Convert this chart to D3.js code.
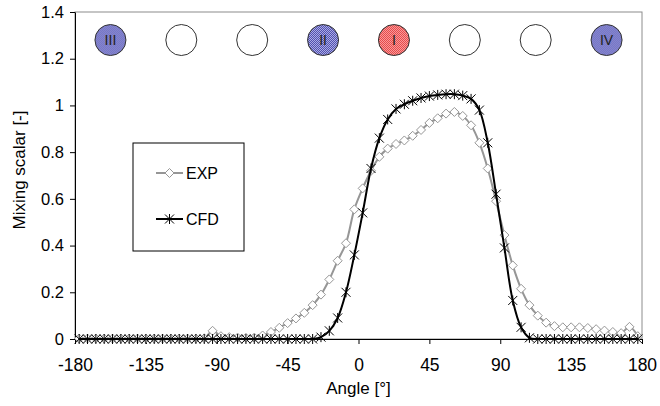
<!DOCTYPE html>
<html>
<head>
<meta charset="utf-8">
<script src="https://cdn.jsdelivr.net/npm/d3@7"></script>
<style>
body { margin: 0; background: #fff; }
svg text { font-family: "Liberation Sans", Arial, sans-serif; }
</style>
</head>
<body>
<svg id="chart" width="660" height="406"></svg>
<script>
// Measurement angles (deg)
const angles = [
-177.35, -172.06, -166.76, -161.47, -156.18, -150.88, -145.59, -140.29, -135.00, -129.71,
-124.41, -119.12, -113.82, -108.53, -103.24, -97.94, -92.65, -87.35, -82.06, -76.76,
-71.47, -66.18, -60.88, -55.59, -50.29, -45.00, -39.71, -34.41, -29.12, -23.82,
-18.53, -13.24, -7.94, -2.65,
2.65, 7.94, 13.24, 18.53, 23.82, 29.12, 34.41, 39.71, 45.00, 50.29,
55.59, 60.88, 66.18, 71.47, 76.76, 82.06, 87.35, 92.65, 97.94, 103.24,
108.53, 113.82, 119.12, 124.41, 129.71, 135.00, 140.29, 145.59, 150.88, 156.18,
161.47, 166.76, 172.06, 177.35
];

const expValues = [
0.002, 0.002, 0.002, 0.002, 0.002, 0.002, 0.002, 0.002, 0.002, 0.002,
0.002, 0.002, 0.002, 0.002, 0.002, 0.003, 0.035, 0.012, 0.008, 0.006,
0.005, 0.006, 0.015, 0.03, 0.048, 0.068, 0.088, 0.112, 0.145, 0.19,
0.255, 0.335, 0.41, 0.555,
0.645, 0.72, 0.78, 0.815, 0.835, 0.85, 0.87, 0.895, 0.925, 0.945,
0.965, 0.972, 0.955, 0.915, 0.84, 0.73, 0.59, 0.445, 0.315, 0.215,
0.145, 0.1, 0.07, 0.055, 0.05, 0.05, 0.05, 0.047, 0.042, 0.036,
0.03, 0.025, 0.052, 0.012
];

const cfdValues = [
0, 0, 0, 0, 0, 0, 0, 0, 0, 0,
0, 0, 0, 0, 0, 0, 0, 0, 0, 0,
0, 0, 0, 0, 0, 0, 0, 0, 0, 0.008,
0.035, 0.09, 0.2, 0.36,
0.54, 0.73, 0.86, 0.94, 0.985, 1.005, 1.02, 1.032, 1.04, 1.045,
1.048, 1.048, 1.042, 1.028, 0.98, 0.84, 0.62, 0.39, 0.165, 0.05,
0.005, 0, 0, 0, 0, 0, 0, 0, 0, 0,
0, 0, 0, 0
];

const xTicks = [-180, -135, -90, -45, 0, 45, 90, 135, 180];
const yTicks = [0, 0.2, 0.4, 0.6, 0.8, 1, 1.2, 1.4];

// Jet position circles along the top
const jetAngles = [-157.5, -112.5, -67.5, -22.5, 22.5, 67.5, 112.5, 157.5];
const jetLabels = ["III", "", "", "II", "I", "", "", "IV"];
const jetKinds = ["blue", "none", "none", "blue", "red", "none", "none", "blue"];
const jetLevel = 1.28;

// Chart dimensions
const margin = { top: 12, right: 18, bottom: 67, left: 75 };
const width = 660;
const height = 406;
const innerWidth = width - margin.left - margin.right;
const innerHeight = height - margin.top - margin.bottom;

const xScale = d3.scaleLinear().domain([-180, 180]).range([0, innerWidth]);
const yScale = d3.scaleLinear().domain([0, 1.4]).range([innerHeight, 0]);

const root = d3.select("#chart");

// dithered fills like the original
const defs = root.append("defs");
function dither(id, light, dark) {
  const p = defs.append("pattern").attr("id", id)
    .attr("width", 2).attr("height", 2).attr("patternUnits", "userSpaceOnUse");
  p.append("rect").attr("width", 2).attr("height", 2).attr("fill", light);
  p.append("rect").attr("x", 0).attr("y", 0).attr("width", 1).attr("height", 1).attr("fill", dark);
  p.append("rect").attr("x", 1).attr("y", 1).attr("width", 1).attr("height", 1).attr("fill", dark);
}
dither("blueFill", "#b4b4ec", "#4848a8");
dither("redFill", "#ffa0a0", "#e04444");

const svg = root.append("g")
  .attr("transform", `translate(${margin.left}, ${margin.top})`);

// plot area frame (top / right in gray)
svg.append("rect")
  .attr("width", innerWidth).attr("height", innerHeight)
  .attr("fill", "none").attr("stroke", "#8c8c8c").attr("stroke-width", 1);

// axes
const xAxis = d3.axisBottom(xScale)
  .tickValues(xTicks)
  .tickFormat(d => String(d))
  .tickSizeInner(5)
  .tickSizeOuter(0)
  .tickPadding(15);

const yAxis = d3.axisLeft(yScale)
  .tickValues(yTicks)
  .tickFormat(d => String(d))
  .tickSizeInner(5)
  .tickSizeOuter(0)
  .tickPadding(6);

const gx = svg.append("g")
  .attr("class", "x-axis")
  .attr("transform", `translate(0, ${innerHeight})`)
  .call(xAxis);
const gy = svg.append("g")
  .attr("class", "y-axis")
  .call(yAxis);

gx.attr("font-size", 17.5);
gy.attr("font-size", 16.5);
[gx, gy].forEach(g => {
  g.selectAll("path, line").attr("stroke", "#000");
  g.selectAll("text").attr("fill", "#000");
});

// axis titles
svg.append("text")
  .attr("x", innerWidth / 2)
  .attr("y", innerHeight + 55)
  .attr("text-anchor", "middle")
  .attr("font-size", 17)
  .text("Angle [°]");

svg.append("text")
  .attr("transform", `translate(${25 - margin.left}, ${158}) rotate(-90)`)
  .attr("text-anchor", "middle")
  .attr("font-size", 17)
  .text("Mixing scalar [-]");

// data lines
const expData = angles.map((a, i) => ({ a: a, v: expValues[i] }));
const cfdData = angles.map((a, i) => ({ a: a, v: cfdValues[i] }));

const line = d3.line()
  .x(d => xScale(d.a))
  .y(d => yScale(d.v))
  .curve(d3.curveCatmullRom);

const diamond = "M0,-4.5L4.5,0L0,4.5L-4.5,0Z";
const star = "M-4.5,-4.5L4.5,4.5M-4.5,4.5L4.5,-4.5M0,-5L0,5";

svg.append("path")
  .datum(expData)
  .attr("fill", "none")
  .attr("stroke", "#969696")
  .attr("stroke-width", 2)
  .attr("d", line);

svg.append("g").selectAll("path")
  .data(expData)
  .join("path")
  .attr("transform", d => `translate(${xScale(d.a)}, ${yScale(d.v)})`)
  .attr("d", diamond)
  .attr("fill", "#fff")
  .attr("stroke", "#969696")
  .attr("stroke-width", 1);

svg.append("path")
  .datum(cfdData)
  .attr("fill", "none")
  .attr("stroke", "#000")
  .attr("stroke-width", 2)
  .attr("d", line);

svg.append("g").selectAll("path")
  .data(cfdData)
  .join("path")
  .attr("transform", d => `translate(${xScale(d.a)}, ${yScale(d.v)})`)
  .attr("d", star)
  .attr("fill", "none")
  .attr("stroke", "#000")
  .attr("stroke-width", 1);

// jet circles
const jets = svg.append("g").selectAll("g")
  .data(jetAngles.map((a, i) => ({ a: a, label: jetLabels[i], kind: jetKinds[i] })))
  .join("g")
  .attr("transform", d => `translate(${xScale(d.a)}, ${yScale(jetLevel)})`);

jets.append("circle")
  .attr("r", 15.5)
  .attr("fill", d => d.kind === "blue" ? "url(#blueFill)" : d.kind === "red" ? "url(#redFill)" : "#fff")
  .attr("stroke", "#333")
  .attr("stroke-width", 1);

jets.append("text")
  .attr("text-anchor", "middle")
  .attr("dy", "0.36em")
  .attr("font-size", 14)
  .attr("fill", "#222")
  .text(d => d.label);

// legend
const legend = svg.append("g").attr("transform", `translate(${133 - margin.left}, ${143 - margin.top})`);
legend.append("rect")
  .attr("width", 111).attr("height", 108)
  .attr("fill", "#fff").attr("stroke", "#000").attr("stroke-width", 1);

const legendItems = [
  { name: "EXP", color: "#969696", shape: diamond, fill: "#fff", y: 30 },
  { name: "CFD", color: "#000", shape: star, fill: "none", y: 76 }
];
legendItems.forEach(it => {
  legend.append("line")
    .attr("x1", 23).attr("x2", 50).attr("y1", it.y).attr("y2", it.y)
    .attr("stroke", it.color).attr("stroke-width", 2);
  legend.append("path")
    .attr("transform", `translate(36.5, ${it.y})`)
    .attr("d", it.shape).attr("fill", it.fill)
    .attr("stroke", it.color).attr("stroke-width", 1);
  legend.append("text")
    .attr("x", 53).attr("y", it.y + 6)
    .attr("font-size", 16)
    .text(it.name);
});
</script>
</body>
</html>
